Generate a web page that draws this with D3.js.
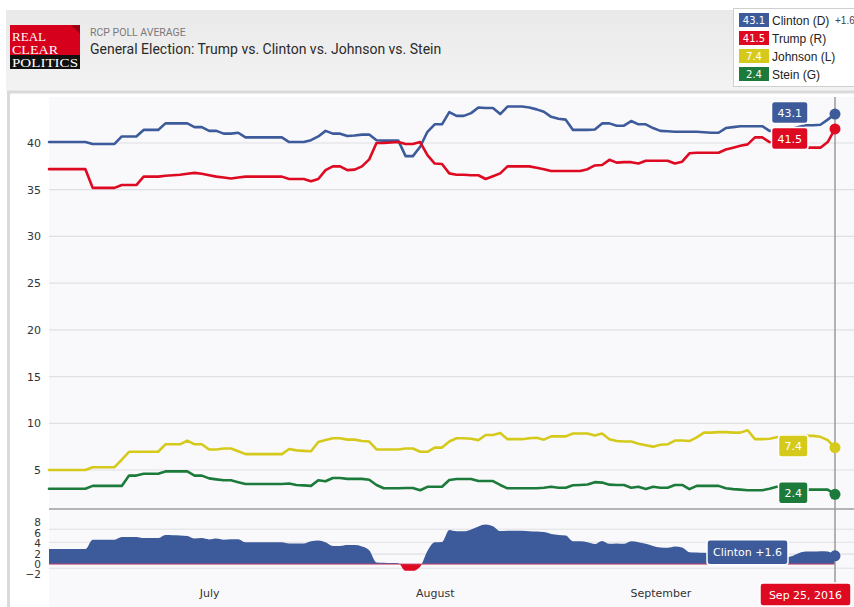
<!DOCTYPE html>
<html><head><meta charset="utf-8">
<script src="https://cdn.jsdelivr.net/npm/d3@7"></script>
<style>body{margin:0;background:#fff;} svg{display:block}</style>
</head><body>
<svg id="chart" width="854" height="607"></svg>
<script>
// ---------------- DATA ----------------
const startDate = "2016-06-09";
const endDateLabel = "Sep 25, 2016";
const seriesNames = ["Clinton (D)", "Trump (R)", "Johnson (L)", "Stein (G)"];
const latestValues = [43.1, 41.5, 7.4, 2.4];
const legendSpread = "+1.6";
const spreadLabel = "Clinton +1.6";
const spreadLatest = 1.6;

// daily RCP averages, Jun 9 -> Sep 25, 2016
const clinton = [40.1,40.1,40.1,40.1,40.1,40.1,39.9,39.9,39.9,39.9,
 40.7,40.7,40.7,41.4,41.4,41.4,42.1,42.1,42.1,42.1,
 41.7,41.7,41.3,41.3,41.0,41.0,41.1,40.6,40.6,40.6,
 40.6,40.6,40.6,40.1,40.1,40.1,40.3,40.7,41.3,41.0,
 41.0,40.75,40.8,40.9,40.9,40.3,40.25,40.25,40.25,38.6,
 38.6,39.6,41.2,42.0,42.0,43.3,42.9,42.9,43.2,43.8,
 43.75,43.75,43.1,43.9,43.9,43.9,43.8,43.6,43.35,42.8,
 42.6,42.5,41.4,41.4,41.4,41.45,42.1,42.1,41.85,41.85,
 42.35,42.0,42.0,41.6,41.3,41.25,41.2,41.2,41.2,41.2,
 41.15,41.1,41.1,41.6,41.7,41.8,41.8,41.8,41.8,41.3,
 41.3,41.4,41.5,41.7,41.9,41.9,41.95,42.5,43.1];
const trump = [37.2,37.2,37.2,37.2,37.2,37.2,35.2,35.2,35.2,35.2,
 35.5,35.5,35.5,36.4,36.4,36.4,36.5,36.55,36.6,36.7,
 36.8,36.7,36.55,36.4,36.3,36.2,36.3,36.4,36.4,36.4,
 36.4,36.4,36.4,36.15,36.15,36.15,35.9,36.15,37.1,37.5,
 37.5,37.1,37.15,37.5,38.25,40.0,40.0,40.05,40.1,39.9,
 39.9,40.1,38.7,37.8,37.75,36.75,36.6,36.6,36.55,36.55,
 36.15,36.45,36.75,37.5,37.5,37.5,37.5,37.35,37.2,37.0,
 37.0,37.0,37.0,37.0,37.2,37.6,37.65,38.2,37.9,37.95,
 37.95,37.8,38.1,38.1,38.1,38.1,37.8,38.0,38.9,38.95,
 38.95,38.95,38.96,39.3,39.5,39.7,39.85,40.6,40.6,40.1,
 40.0,40.2,40.0,39.6,39.5,39.5,39.5,40.1,41.5];
const johnson = [5.0,5.0,5.0,5.0,5.0,5.0,5.3,5.3,5.3,5.3,
 6.1,6.95,6.95,6.95,6.95,6.95,7.75,7.75,7.75,8.15,
 7.75,7.75,7.2,7.2,7.3,7.3,7.0,6.7,6.7,6.7,
 6.7,6.7,6.7,7.25,7.1,7.05,7.0,8.0,8.2,8.4,
 8.4,8.25,8.25,8.1,8.05,7.2,7.2,7.2,7.2,7.3,
 7.3,6.95,6.95,7.4,7.4,8.05,8.4,8.4,8.35,8.2,
 8.75,8.75,8.95,8.3,8.3,8.3,8.4,8.45,8.25,8.6,
 8.6,8.6,8.9,8.9,8.9,8.7,8.9,8.3,8.1,8.05,
 8.05,7.8,7.65,7.5,7.7,7.75,8.15,8.15,8.1,8.5,
 9.0,9.0,9.05,9.05,9.0,9.0,9.25,8.3,8.3,8.35,
 8.5,8.6,8.65,8.65,8.65,8.65,8.55,8.2,7.4];
const stein = [3.0,3.0,3.0,3.0,3.0,3.0,3.3,3.3,3.3,3.3,
 3.3,4.4,4.4,4.6,4.6,4.6,4.85,4.85,4.85,4.85,
 4.4,4.4,4.1,4.0,3.9,3.9,3.7,3.5,3.5,3.5,
 3.5,3.5,3.5,3.55,3.4,3.35,3.3,3.9,3.8,4.15,
 4.15,4.05,4.05,4.05,3.95,3.4,3.05,3.05,3.05,3.07,
 3.07,2.83,3.2,3.2,3.2,3.93,4.04,4.04,4.04,3.82,
 3.82,3.82,3.4,3.04,3.04,3.04,3.04,3.04,3.1,3.2,
 3.1,3.1,3.36,3.4,3.45,3.7,3.65,3.43,3.4,3.4,
 3.1,3.2,2.97,3.2,3.1,3.1,3.4,3.4,2.95,3.3,
 3.3,3.3,3.3,3.04,2.95,2.9,2.83,2.83,2.83,3.0,
 3.2,3.2,3.1,3.0,2.9,2.9,2.9,2.9,2.4];

const mainTicks = [5, 10, 15, 20, 25, 30, 35, 40];
const spreadTicks = [8, 6, 4, 2, 0, -2];
const spreadGrid = [6.7, 4.2, 1.9, -0.8];
const monthLabels = ["July", "August", "September"];
const monthDates = ["2016-07-01", "2016-08-01", "2016-09-01"];

// ---------------- STYLE ----------------
const colors = ["#3d5b9a", "#dd0a22", "#d5ca1b", "#1c7b3a"];
const series = [clinton, trump, johnson, stein];
const parse = d3.timeParse("%Y-%m-%d");
const t0 = parse(startDate);
const dates = clinton.map((_, i) => d3.timeDay.offset(t0, i));
const spread = clinton.map((v, i) => +(v - trump[i]).toFixed(2));

const svg = d3.select("#chart");
const defs = svg.append("defs");

const x = d3.scaleTime().domain([dates[0], dates[dates.length - 1]]).range([49, 835]);
const y = d3.scaleLinear().domain([5, 40]).range([470, 143]);
const ys = d3.scaleLinear().domain([-2, 8]).range([574.5, 522.5]);

// header
const hg = defs.append("linearGradient").attr("id", "hg").attr("x1", 0).attr("y1", 0).attr("x2", 0).attr("y2", 1);
hg.append("stop").attr("offset", "0%").attr("stop-color", "#e9e9e9");
hg.append("stop").attr("offset", "100%").attr("stop-color", "#f3f3f3");
svg.append("rect").attr("x", 6).attr("y", 10).attr("width", 860).attr("height", 81).attr("fill", "url(#hg)");

// logo
const logo = svg.append("g");
logo.append("rect").attr("x", 10).attr("y", 25).attr("width", 70).attr("height", 31).attr("fill", "#d6001c");
logo.append("path").attr("d", "M71,25 L80,25 L80,34 Z").attr("fill", "#9a0014");
logo.append("rect").attr("x", 10).attr("y", 55).attr("width", 70).attr("height", 14).attr("fill", "#111");
const serif = "'Liberation Serif','DejaVu Serif',serif";
logo.append("text").attr("x", 12).attr("y", 40.5).attr("fill", "#fff").attr("font-family", serif).attr("font-size", 11.5)
  .attr("textLength", 34).attr("lengthAdjust", "spacingAndGlyphs").text("REAL");
logo.append("text").attr("x", 12).attr("y", 53.5).attr("fill", "#fff").attr("font-family", serif).attr("font-size", 11.5)
  .attr("textLength", 46).attr("lengthAdjust", "spacingAndGlyphs").text("CLEAR");
logo.append("text").attr("x", 12).attr("y", 67).attr("fill", "#fff").attr("font-family", serif).attr("font-size", 13.5)
  .attr("textLength", 66).attr("lengthAdjust", "spacingAndGlyphs").text("POLITICS");

svg.append("text").attr("x", 90).attr("y", 35.5).attr("font-family", "Roboto, sans-serif").attr("font-size", 10.5)
  .attr("fill", "#7a7a7a").text("RCP POLL AVERAGE");
svg.append("text").attr("x", 90).attr("y", 53.5).attr("font-family", "Roboto, sans-serif").attr("font-size", 14)
  .attr("fill", "#2a2a2a").text("General Election: Trump vs. Clinton vs. Johnson vs. Stein");

// legend
const lg = svg.append("g");
lg.append("rect").attr("x", 733.5).attr("y", 8.5).attr("width", 130).attr("height", 78).attr("fill", "#fff").attr("stroke", "#cfcfcf");
const legendY = [20, 38, 56, 74];
seriesNames.forEach((n, i) => {
  lg.append("rect").attr("x", 739).attr("y", legendY[i] - 7).attr("width", 30).attr("height", 14).attr("fill", colors[i]);
  lg.append("text").attr("x", 754).attr("y", legendY[i] + 4).attr("text-anchor", "middle").attr("fill", "#fff")
    .attr("font-family", "'DejaVu Sans', sans-serif").attr("font-size", 10).text(latestValues[i]);
  lg.append("text").attr("x", 772).attr("y", legendY[i] + 4.5).attr("fill", "#222")
    .attr("font-family", "'Liberation Sans', Arial, sans-serif").attr("font-size", 12).text(n);
});
lg.append("text").attr("x", 835).attr("y", 24).attr("fill", "#444")
  .attr("font-family", "'Liberation Sans', Arial, sans-serif").attr("font-size", 10).text(legendSpread);

// frame and plot background
svg.append("rect").attr("x", 8.5).attr("y", 92).attr("width", 860).attr("height", 530).attr("fill", "#fff").attr("stroke", "#dadada").attr("stroke-width", 3);
svg.append("rect").attr("x", 49).attr("y", 97).attr("width", 820).attr("height", 520).attr("fill", "#f9f9fc");

// gridlines
svg.append("g").selectAll("line").data(mainTicks).join("line")
  .attr("x1", 49).attr("x2", 854).attr("y1", d => y(d)).attr("y2", d => y(d))
  .attr("stroke", "#e0e0e4").attr("stroke-width", 1.2);
svg.append("g").selectAll("line").data(spreadGrid).join("line")
  .attr("x1", 49).attr("x2", 854).attr("y1", d => ys(d)).attr("y2", d => ys(d))
  .attr("stroke", "#e0e0e4").attr("stroke-width", 1.2);
svg.append("line").attr("x1", 49).attr("x2", 854).attr("y1", 509).attr("y2", 509).attr("stroke", "#b4b4b8").attr("stroke-width", 2);

// axes
const axisFont = "'DejaVu Sans', Verdana, sans-serif";
const yAxis = svg.append("g").attr("transform", "translate(41,0)")
  .call(d3.axisLeft(y).tickValues(mainTicks).tickSize(0).tickPadding(0));
const ysAxis = svg.append("g").attr("transform", "translate(41,0)")
  .call(d3.axisLeft(ys).tickValues(spreadTicks).tickSize(0).tickPadding(0));
const monthTicks = monthDates.map(parse);
const xAxis = svg.append("g").attr("transform", "translate(0,589)")
  .call(d3.axisBottom(x).tickValues(monthTicks).tickSize(0).tickPadding(0)
    .tickFormat((d, i) => monthLabels[i]));
[yAxis, ysAxis, xAxis].forEach(a => {
  a.select(".domain").remove();
  a.selectAll("text").attr("font-family", axisFont).attr("font-size", 11).attr("fill", "#333");
});
ysAxis.selectAll("text").attr("font-size", 10.5);

// spread area
const zeroY = ys(0);
defs.append("clipPath").attr("id", "above").append("rect").attr("x", 0).attr("y", 0).attr("width", 854).attr("height", zeroY);
defs.append("clipPath").attr("id", "below").append("rect").attr("x", 0).attr("y", zeroY).attr("width", 854).attr("height", 100);
const area = d3.area().x((d, i) => x(dates[i])).y0(zeroY).y1(d => ys(d)).curve(d3.curveMonotoneX);
svg.append("path").datum(spread).attr("d", area).attr("fill", colors[0]).attr("clip-path", "url(#above)");
svg.append("path").datum(spread).attr("d", area).attr("fill", colors[1]).attr("clip-path", "url(#below)");
svg.append("line").attr("x1", 49).attr("x2", 835).attr("y1", zeroY).attr("y2", zeroY).attr("stroke", "#c4406a").attr("stroke-width", 1);

// lines
const line = d3.line().x((d, i) => x(dates[i])).y(d => y(d));
[3, 2, 0, 1].forEach(k => {
  svg.append("path").datum(series[k]).attr("d", line).attr("fill", "none")
    .attr("stroke", colors[k]).attr("stroke-width", 2.6).attr("stroke-linejoin", "round").attr("stroke-linecap", "round");
});

// crosshair
const xe = x(dates[dates.length - 1]);
svg.append("line").attr("x1", xe).attr("x2", xe).attr("y1", 97).attr("y2", 584).attr("stroke", "#9a9a9a").attr("stroke-width", 1.5);

// end dots
series.forEach((s, k) => {
  svg.append("circle").attr("cx", xe).attr("cy", y(s[s.length - 1])).attr("r", 5.5).attr("fill", colors[k]);
});
svg.append("circle").attr("cx", xe).attr("cy", ys(spread[spread.length - 1])).attr("r", 5.5).attr("fill", colors[0]);

// value badges
const badgeFont = "'DejaVu Sans', Verdana, sans-serif";
function badge(text, right, cy, fill, h) {
  const g = svg.append("g");
  const t = g.append("text").attr("y", cy + 4).attr("fill", "#fff").attr("font-family", badgeFont).attr("font-size", 11).text(text);
  const w = t.node().getComputedTextLength() + 12;
  g.insert("rect", "text").attr("x", right - w).attr("y", cy - h / 2).attr("width", w).attr("height", h)
    .attr("rx", 3).attr("fill", fill).attr("stroke", "#fff").attr("stroke-width", 1.5);
  t.attr("x", right - w + 6);
  return g;
}
let prevBottom = -Infinity;
const badgeCenters = latestValues.map((v, i) => {
  let c = y(v) - 1.5;
  if (c - 11 < prevBottom + 4) c = prevBottom + 4 + 11;
  prevBottom = c + 11;
  return c;
});
latestValues.forEach((v, i) => badge(String(v), 808, badgeCenters[i], colors[i], 22));
badge(spreadLabel, 788, ys(spreadLatest) - 3.5, colors[0], 25);

// date badge
const dg = svg.append("g");
dg.append("rect").attr("x", 760).attr("y", 583).attr("width", 91).attr("height", 23).attr("rx", 3)
  .attr("fill", "#dd0a22").attr("stroke", "#fff").attr("stroke-width", 1.5);
dg.append("text").attr("x", 805.5).attr("y", 598.5).attr("text-anchor", "middle").attr("fill", "#fff")
  .attr("font-family", badgeFont).attr("font-size", 11).text(endDateLabel);
</script>
</body></html>
